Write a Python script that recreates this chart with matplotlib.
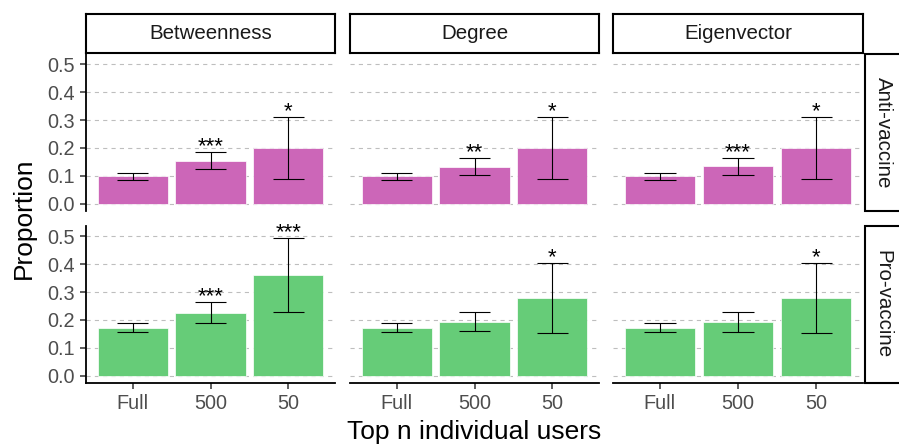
import matplotlib
matplotlib.use('Agg')
import matplotlib.pyplot as plt
from matplotlib.patches import Rectangle

plt.rcParams['font.family'] = ['Liberation Sans', 'DejaVu Sans']
plt.rcParams['lines.scale_dashes'] = False

groups = ['Full', '500', '50']
metrics = ['Betweenness', 'Degree', 'Eigenvector']
stances = ['Anti-vaccine', 'Pro-vaccine']

# one inner list per metric (Betweenness, Degree, Eigenvector)
anti_prop = [[0.100, 0.153, 0.200], [0.100, 0.133, 0.200], [0.100, 0.134, 0.200]]
anti_lo = [[0.085, 0.123, 0.090], [0.085, 0.104, 0.090], [0.085, 0.104, 0.090]]
anti_hi = [[0.112, 0.185, 0.310], [0.112, 0.163, 0.310], [0.112, 0.164, 0.310]]
anti_stars = [['', '***', '*'], ['', '**', '*'], ['', '***', '*']]

pro_prop = [[0.172, 0.224, 0.360], [0.172, 0.194, 0.280], [0.172, 0.192, 0.280]]
pro_lo = [[0.156, 0.190, 0.227], [0.157, 0.159, 0.154], [0.157, 0.157, 0.154]]
pro_hi = [[0.189, 0.263, 0.493], [0.189, 0.228, 0.404], [0.189, 0.227, 0.404]]
pro_stars = [['', '***', '***'], ['', '', '*'], ['', '', '*']]

yticks = [0.0, 0.1, 0.2, 0.3, 0.4, 0.5]
colors = ['#CC66B8', '#66CC78']

W, H = 899, 445
fig = plt.figure(figsize=(W / 100, H / 100), dpi=100)


def box(x0, y0, x1, y1):
    return [x0 / W, 1 - y1 / H, (x1 - x0) / W, (y1 - y0) / H]


cols = [(86, 335), (350, 599), (613, 863)]
rows = [(54, 211), (226, 383)]

row_data = [(anti_prop, anti_lo, anti_hi, anti_stars),
            (pro_prop, pro_lo, pro_hi, pro_stars)]

xs = list(range(len(groups)))
for r, (ry0, ry1) in enumerate(rows):
    prop, lo, hi, stars = row_data[r]
    for c, (cx0, cx1) in enumerate(cols):
        ax = fig.add_axes(box(cx0, ry0, cx1, ry1))
        ax.bar(xs, prop[c], width=0.9, color=colors[r], edgecolor='white',
               linewidth=0.5, zorder=2)
        ax.vlines(xs, lo[c], hi[c], color='black', linewidth=0.8, zorder=3)
        ax.hlines(lo[c], [x - 0.2 for x in xs], [x + 0.2 for x in xs],
                  color='black', linewidth=0.8, zorder=3)
        ax.hlines(hi[c], [x - 0.2 for x in xs], [x + 0.2 for x in xs],
                  color='black', linewidth=0.8, zorder=3)
        for x, top, s in zip(xs, hi[c], stars[c]):
            if s:
                ax.text(x, top + 0.001, s, ha='center', va='baseline',
                        fontsize=16, color='black', zorder=4)
        ax.set_xlim(-0.6, 2.6)
        ax.set_ylim(-0.026, 0.537)
        ax.set_yticks(yticks)
        ax.set_yticklabels(['%.1f' % t for t in yticks])
        ax.set_xticks(xs)
        ax.set_xticklabels(groups)
        ax.yaxis.grid(True, color='#BEBEBE', linestyle=(0, (3, 3)),
                      linewidth=0.8)
        ax.set_axisbelow(True)
        for side in ['top', 'right']:
            ax.spines[side].set_visible(False)
        ax.spines['left'].set_linewidth(1.3)
        ax.spines['bottom'].set_linewidth(1.3)
        ax.tick_params(axis='both', labelsize=14.3, labelcolor='#4D4D4D',
                       color='#333333', length=4, width=1.1, pad=4)
        if c > 0:
            ax.spines['left'].set_visible(False)
            ax.tick_params(axis='y', left=False, labelleft=False)
        if r == 0:
            ax.spines['bottom'].set_visible(False)
            ax.tick_params(axis='x', bottom=False, labelbottom=False)

# column strips
for c, (cx0, cx1) in enumerate(cols):
    sax = fig.add_axes(box(cx0, 14, cx1, 53))
    sax.set_xticks([])
    sax.set_yticks([])
    for sp in sax.spines.values():
        sp.set_linewidth(1.5)
    sax.text(0.5, 0.5, metrics[c], ha='center', va='center',
             fontsize=14.8, color='#1A1A1A', transform=sax.transAxes)

# row strips (cut by the right figure edge)
for r, (ry0, ry1) in enumerate(rows):
    rect = Rectangle((865 / W, 1 - ry1 / H), 40 / W, (ry1 - ry0) / H,
                     transform=fig.transFigure, facecolor='white',
                     edgecolor='black', linewidth=1.5)
    fig.add_artist(rect)
    fig.text(883 / W, 1 - (ry0 + ry1) / 2 / H, stances[r], rotation=-90,
             ha='center', va='center', fontsize=14.8, color='#1A1A1A')

fig.text(24 / W, 1 - 218 / H, 'Proportion', rotation=90, ha='center',
         va='center', fontsize=19)
fig.text(474.5 / W, 1 - 432 / H, 'Top n individual users', ha='center',
         va='center', fontsize=19)

fig.savefig('out.png', dpi=100)
